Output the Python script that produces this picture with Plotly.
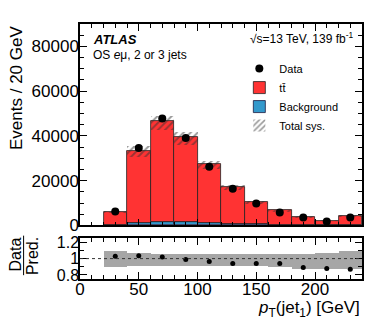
import plotly.graph_objects as go

# binning and content
bin_centers = [30, 50, 70, 90, 110, 130, 150, 170, 190, 210, 230]
bin_width = 20
ttbar = [5800, 32000, 45100, 38200, 26400, 16500, 10100, 6400, 3800, 2050, 4200]
background = [200, 1300, 1500, 1450, 1100, 800, 500, 300, 200, 150, 200]
data = [6200, 34600, 47800, 39100, 26200, 16400, 9800, 5800, 3500, 1800, 3600]
ratio = [1.03, 1.035, 1.02, 0.99, 0.965, 0.94, 0.94, 0.94, 0.89, 0.88, 0.87]
sys_up = [0.093, 0.07, 0.05, 0.05, 0.05, 0.05, 0.05, 0.05, 0.06, 0.07, 0.09]
sys_dn = [0.105, 0.088, 0.088, 0.088, 0.09, 0.09, 0.09, 0.1, 0.13, 0.13, 0.135]

RED = '#ff3333'
BLUE = '#3399cc'
FONT = 'Liberation Sans, Arial, sans-serif'

total = [t + b for t, b in zip(ttbar, background)]
band_lo = [p * (1 - d) for p, d in zip(total, sys_dn)]
band_h = [p * (u + d) for p, u, d in zip(total, sys_up, sys_dn)]

fig = go.Figure()

fig.add_trace(go.Bar(
    x=bin_centers, y=background, width=bin_width,
    name='Background', legendrank=3,
    marker=dict(color=BLUE, line=dict(color='#1a1a40', width=0.8)),
    xaxis='x2', yaxis='y',
))
fig.add_trace(go.Bar(
    x=bin_centers, y=ttbar, base=background, width=bin_width,
    name='t\u0074\u0304', legendrank=2,
    marker=dict(color=RED, line=dict(color='#222', width=0.8)),
    xaxis='x2', yaxis='y',
))
fig.add_trace(go.Bar(
    x=bin_centers, y=band_h, base=band_lo, width=bin_width,
    name='Total sys.', legendrank=4,
    marker=dict(color='rgba(0,0,0,0)', line=dict(width=0),
                pattern=dict(shape='/', fgcolor='#333', bgcolor='rgba(0,0,0,0)',
                             size=5, solidity=0.4)),
    xaxis='x2', yaxis='y',
))
fig.add_trace(go.Scatter(
    x=bin_centers, y=data, mode='markers',
    name='Data', legendrank=1,
    marker=dict(color='black', size=8),
    xaxis='x2', yaxis='y',
))

# ratio panel
fig.add_trace(go.Bar(
    x=bin_centers, y=[u + d for u, d in zip(sys_up, sys_dn)],
    base=[1 - d for d in sys_dn], width=bin_width,
    marker=dict(color='#a6a6a6', line=dict(width=0)),
    showlegend=False, xaxis='x', yaxis='y2',
))
fig.add_trace(go.Scatter(
    x=bin_centers, y=ratio, mode='markers',
    marker=dict(color='black', size=5),
    showlegend=False, xaxis='x', yaxis='y2',
))

axis_common = dict(
    showline=True, linecolor='black', linewidth=1.5, mirror='allticks',
    ticks='inside', ticklen=7, tickcolor='black', showgrid=False, zeroline=False,
)

# page body adds an 8 px offset, so the figure is 8 px smaller than the window
fig.update_layout(
    width=374, height=315,
    margin=dict(l=72, r=20, t=14, b=44),
    paper_bgcolor='white', plot_bgcolor='white',
    font=dict(family=FONT, color='black'),
    barmode='overlay', bargap=0,
    xaxis=dict(domain=[0, 1], anchor='y2', range=[0, 240],
               tickvals=[0, 50, 100, 150, 200], tickfont=dict(size=17),
               ticklabelstandoff=-6,
               minor=dict(ticks='inside', ticklen=4, dtick=10, tickcolor='black'),
               **axis_common),
    xaxis2=dict(domain=[0, 1], anchor='y', range=[0, 240], matches='x',
                tickvals=[0, 50, 100, 150, 200], showticklabels=False,
                minor=dict(ticks='inside', ticklen=4, dtick=10, tickcolor='black'),
                **axis_common),
    yaxis=dict(domain=[0.21, 1], range=[0, 90000], dtick=20000,
               tickfont=dict(size=17), tickformat='d', ticklabelstandoff=-4,
               minor=dict(ticks='inside', ticklen=4, dtick=5000, tickcolor='black'),
               **axis_common),
    yaxis2=dict(domain=[0, 0.16], range=[0.75, 1.25],
                tickvals=[0.8, 1, 1.2], ticktext=['0.8', '1', '1.2'],
                tickfont=dict(size=16), ticklabelstandoff=-4,
                minor=dict(ticks='inside', ticklen=4, dtick=0.1, tickcolor='black'),
                **axis_common),
    legend=dict(x=0.565, y=0.882, xanchor='left', yanchor='top',
                font=dict(size=11), bgcolor='rgba(0,0,0,0)',
                tracegroupgap=0, itemwidth=30),
    showlegend=True,
)

fig.add_shape(type='line', xref='x', yref='y2', x0=0, x1=240, y0=1, y1=1,
              line=dict(color='#333', width=1, dash='dot'))

fig.add_annotation(x=0.04, y=0.94, xref='paper', yref='paper',
                   xanchor='left', yanchor='middle', showarrow=False,
                   text='<b><i>ATLAS</i></b>', font=dict(size=13))
fig.add_annotation(x=0.04, y=0.88, xref='paper', yref='paper',
                   xanchor='left', yanchor='middle', showarrow=False,
                   text='OS <i>e</i>\u03bc, 2 or 3 jets', font=dict(size=12))
fig.add_annotation(x=0.975, y=0.945, xref='paper', yref='paper',
                   xanchor='right', yanchor='middle', showarrow=False,
                   text='\u221as=13 TeV, 139 fb<sup>-1</sup>', font=dict(size=12))

# axis titles
fig.add_annotation(x=-0.227, y=1.0, xref='paper', yref='paper',
                   xanchor='center', yanchor='top', showarrow=False, textangle=-90,
                   text='Events / 20 GeV', font=dict(size=17))
fig.add_annotation(x=1.0, y=-0.068, xref='paper', yref='paper',
                   xanchor='right', yanchor='top', showarrow=False,
                   text='<i>p</i><sub>T</sub>(jet<sub>1</sub>) [GeV]', font=dict(size=17))
fig.add_annotation(x=-0.228, y=0.095, xref='paper', yref='paper',
                   xanchor='center', yanchor='middle', showarrow=False, textangle=-90,
                   text='Data', font=dict(size=16))
fig.add_annotation(x=-0.17, y=0.09, xref='paper', yref='paper',
                   xanchor='center', yanchor='middle', showarrow=False, textangle=-90,
                   text='Pred.', font=dict(size=16))
fig.add_shape(type='line', xref='paper', yref='paper',
              x0=-0.2, x1=-0.2, y0=0.015, y1=0.17,
              line=dict(color='black', width=1))

fig.write_html("out.html")
